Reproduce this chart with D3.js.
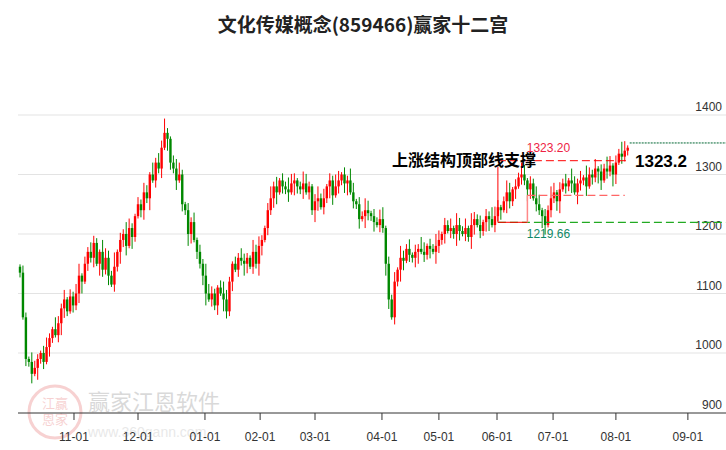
<!DOCTYPE html><html><head><meta charset="utf-8"><script src="https://cdn.jsdelivr.net/npm/d3@7"></script>
<style>body{margin:0;background:#fff}svg{display:block;font-family:"Noto Sans CJK SC",Arial,sans-serif}</style></head><body><svg id="c" width="726" height="450"></svg><script>
const closes=[1135,1060,990,985,965,975, 990,1000,985,1010,1025,1040,1030, 1050,1075,1090,1070,1095,1080,
1100,1130,1120,1150,1170,1160,1185,1150,1170, 1140,1160,1130,1115,1145,1170, 1190,1200,1180,1210,1195,1230,1250,
1240,1270,1260,1300,1290,1320,1310, 1345,1370,1360,1320,1310, 1290,1300,1250,1240,1200,1220, 1190,1170,1150,1130,1100,1090,
1100,1080,1110,1100,1090,1070, 1120,1150,1140,1160,1155,1150, 1160,1145,1170,1150,1180,1190, 1210,1240,1260,1280,1270,1290,
1280,1275,1270,1285,1290,1280, 1275,1285,1270,1280,1240,1255, 1260,1245,1260,1280,1290,1265, 1280,1290,1300,1285,1290,1270,
1255,1250,1225,1230,1240,1235, 1230,1220,1215,1225,1210, 1150,1090,1060,1120,1140,1160, 1155,1175,1165,1160,1170,1175,
1170,1165,1180,1175,1170,1180, 1190,1200,1215,1205,1210,1200, 1215,1205,1200,1210,1195,1215, 1225,1215,1205,1220,1230,1225,
1215,1230,1245,1240,1255,1270, 1255,1275,1280,1295,1300,1290, 1275,1285,1260,1250,1240,1230, 1215,1240,1260,1270,1255,1275,
1285,1280,1290,1285,1270,1285, 1290,1295,1280,1300,1295,1310, 1305,1290,1310,1305,1315,1300, 1320,1335,1330,1340,1345];
const wickUp="13214321342153241324513243215432613254213243152436213452132413254321354213243215342135241325431254213524132541325413254132451324153241325413254132415324153241325431254132541325413254132415324153241325413254132";
const wickDn="21324152314213542132451324153241325341521342513241532413254132451324153241325413254132451324153241325413254132451324153241325413254132451324153241325413254132451324153241325413254132451324153241325413254132";
const firstOpen=1145;
const tickLabels=["11-01","12-01","01-01","02-01","03-01","04-01","05-01","06-01","07-01","08-01","09-01"];
const tickIdx=[18.3,40,62.7,81.4,100,122.7,142,161.7,180.7,202,226.4];
const yTicks=[900,1000,1100,1200,1300,1400];
const topLine=1323.2, supLine=1219.66, midLine=1265, lastLine=1353;

const svg=d3.select("#c");
const x=d3.scaleLinear().domain([0,1]).range([20,22.95]);
const y=d3.scaleLinear().domain([900,1400]).range([412.5,115]);
const RED="#f00",GRN="#080";
svg.append("text").attr("x",363).attr("y",32).attr("text-anchor","middle").attr("font-size",19).attr("font-weight","bold").attr("fill","#222").text("文化传媒概念(859466)赢家十二宫");
svg.append("g").selectAll("line").data(yTicks.slice(1)).join("line").attr("x1",18).attr("x2",726).attr("y1",d=>y(d)).attr("y2",d=>y(d)).attr("stroke","#e3e3e3");
svg.append("g").selectAll("text").data(yTicks).join("text").attr("x",722).attr("y",d=>y(d)-4).attr("text-anchor","end").attr("font-size",12).attr("fill","#333").attr("font-family","Arial,sans-serif").text(d=>d);
const wm=svg.append("g").attr("opacity",0.22);
wm.append("circle").attr("cx",55).attr("cy",412).attr("r",26).attr("fill","none").attr("stroke","#d33").attr("stroke-width",3);
wm.append("text").attr("x",55).attr("y",408).attr("text-anchor","middle").attr("font-size",13).attr("fill","#d33").text("江赢");
wm.append("text").attr("x",55).attr("y",424).attr("text-anchor","middle").attr("font-size",13).attr("fill","#d33").text("恩家");
wm.append("text").attr("x",88).attr("y",410).attr("font-size",22).attr("fill","#555").text("赢家江恩软件");
wm.append("text").attr("x",88).attr("y",437).attr("font-size",14).attr("fill","#999").attr("font-family","Arial").text("www.360gann.com");
const ax=svg.append("g").attr("transform","translate(0,413)");
ax.append("line").attr("x1",18).attr("x2",726).attr("stroke","#333");
ax.selectAll("line.t").data(tickIdx).join("line").attr("class","t").attr("x1",d=>x(d)).attr("x2",d=>x(d)).attr("y1",0).attr("y2",7).attr("stroke","#333");
ax.selectAll("text").data(tickLabels).join("text").attr("x",(d,i)=>x(tickIdx[i])).attr("y",28).attr("text-anchor","middle").attr("font-size",12).attr("font-family","Arial,sans-serif").attr("fill","#333").text(d=>d);
const data=closes.map((c,i)=>{const o=i?closes[i-1]:firstOpen;return{i,o,c,h:Math.max(o,c)+(+wickUp[i%wickUp.length])*4,l:Math.min(o,c)-(+wickDn[i%wickDn.length])*4};});
const g=svg.append("g");
g.selectAll("line").data(data).join("line").attr("x1",d=>x(d.i)).attr("x2",d=>x(d.i)).attr("y1",d=>y(d.h)).attr("y2",d=>y(d.l)).attr("stroke",d=>d.c>=d.o?RED:GRN);
g.selectAll("rect").data(data).join("rect").attr("x",d=>x(d.i)-1.2).attr("width",2.4).attr("y",d=>y(Math.max(d.o,d.c))).attr("height",d=>Math.max(1,Math.abs(y(d.o)-y(d.c)))).attr("fill",d=>d.c>=d.o?RED:GRN);
const x0=x(162),x1=x(172);
svg.append("line").attr("x1",x0).attr("x2",x(206)).attr("y1",y(topLine)).attr("y2",y(topLine)).attr("stroke",RED).attr("stroke-dasharray","8,4");
svg.append("line").attr("x1",x0).attr("x2",726).attr("y1",y(supLine)).attr("y2",y(supLine)).attr("stroke","#2a2").attr("stroke-dasharray","8,4").attr("stroke-width",1.3);
svg.append("line").attr("x1",x1).attr("x2",x(205)).attr("y1",y(midLine)).attr("y2",y(midLine)).attr("stroke","#f66").attr("stroke-dasharray","8,4").attr("stroke-width",1.3);
svg.append("line").attr("x1",x(206)+2).attr("x2",726).attr("y1",y(lastLine)).attr("y2",y(lastLine)).attr("stroke","#063").attr("stroke-dasharray","2,1");
svg.append("path").attr("d",`M${x0},${y(1313)}V${y(supLine)}H${x1}`).attr("fill","none").attr("stroke",RED);
svg.append("line").attr("x1",x1).attr("x2",x1).attr("y1",y(supLine)).attr("y2",y(midLine)).attr("stroke","#f88").attr("stroke-width",1.5);
svg.append("text").attr("x",x1+21).attr("y",y(topLine)-9).attr("text-anchor","middle").attr("font-size",12).attr("fill","#e24").attr("font-family","Arial").text("1323.20");
svg.append("text").attr("x",x1+21).attr("y",y(supLine)+16).attr("text-anchor","middle").attr("font-size",12).attr("fill","#186").attr("font-family","Arial").text("1219.66");
svg.append("text").attr("x",392).attr("y",y(topLine)+5).attr("font-size",16).attr("font-weight","bold").attr("fill","#000").text("上涨结构顶部线支撑");
svg.append("text").attr("x",635).attr("y",y(topLine)+6).attr("font-size",17).attr("font-weight","bold").attr("fill","#000").attr("font-family","Arial").text("1323.2");
</script></body></html>
